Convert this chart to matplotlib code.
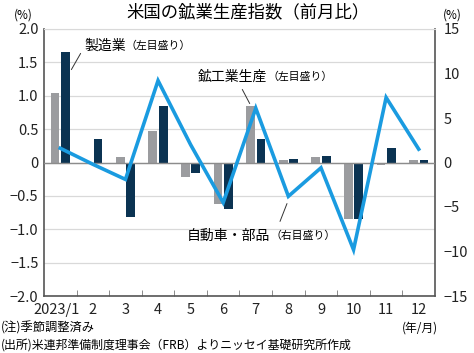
import matplotlib
matplotlib.use("Agg")
import matplotlib.pyplot as plt
import matplotlib.transforms as mtransforms
import numpy as np

plt.rcParams['font.family'] = ['Noto Sans CJK JP', 'DejaVu Sans']

# data (month-on-month %)
months = ['2023/1', '2', '3', '4', '5', '6', '7', '8', '9', '10', '11', '12']
mining = [1.04, 0.0, 0.08, 0.47, -0.22, -0.62, 0.85, 0.04, 0.08, -0.85, -0.03, 0.04]
manufacturing = [1.66, 0.35, -0.82, 0.85, -0.16, -0.70, 0.35, 0.05, 0.09, -0.85, 0.22, 0.04]
autos = [1.6, -0.2, -1.9, 9.2, 2.0, -4.5, 6.1, -3.8, -0.6, -9.8, 7.3, 1.5]
left_ticks = [2.0, 1.5, 1.0, 0.5, 0, -0.5, -1.0, -1.5, -2.0]
right_ticks = [15, 10, 5, 0, -5, -10, -15]

W, H = 474, 353
fig = plt.figure(figsize=(W / 100, H / 100), dpi=100)
ax = fig.add_axes([44 / W, 1 - 296 / H, (435 - 44) / W, (296 - 29) / H])

x = np.arange(len(months))
ax.bar(x - 0.16, mining, width=0.27, color='#9b9c9f', zorder=2)
ax.bar(x + 0.16, manufacturing, width=0.27, color='#0b3352', zorder=2)
ax.set_xlim(-0.5, 11.5)
ax.set_ylim(-2.0, 2.0)

for v in left_ticks:
    ax.axhline(v, color='#d9d9d9', lw=0.9, zorder=1)
ax.axhline(0, color='#8c8c8c', lw=1.0, zorder=3)

def fmt(v):
    if v == 0:
        return '0'
    s = f'{abs(v):.1f}' if isinstance(v, float) else f'{abs(v)}'
    return ('−' if v < 0 else '') + s

ax.set_yticks(left_ticks)
ax.set_yticklabels([fmt(v) for v in left_ticks], fontsize=10.5, color='#222222')
ax.tick_params(axis='y', length=0, pad=4)

ax.set_xticks(x)
ax.set_xticklabels(months, fontsize=10.5, color='#222222')
ax.set_xticks(np.arange(0.5, 11.5, 1), minor=True)
ax.tick_params(axis='x', which='major', length=0, pad=5)
ax.tick_params(axis='x', which='minor', direction='in', length=4, color='#777777')
# first label sits a little left of its slot, as in the reference
first = ax.get_xticklabels()[0]
first.set_transform(first.get_transform() +
                    mtransforms.ScaledTranslation(-4 / 100, 0, fig.dpi_scale_trans))

for side in ['left', 'right', 'bottom']:
    ax.spines[side].set_color('#555555')
    ax.spines[side].set_linewidth(1.2)
ax.spines['top'].set_color('#d9d9d9')

ax2 = ax.twinx()
ax2.plot(x, autos, color='#1a9be0', lw=2.6, solid_joinstyle='miter', zorder=4)
ax2.set_ylim(-15, 15)
ax2.set_yticks(right_ticks)
ax2.set_yticklabels([fmt(v) for v in right_ticks], fontsize=10.5, color='#222222')
ax2.tick_params(axis='y', length=0, pad=6)
for side in ['left', 'right', 'bottom', 'top']:
    ax2.spines[side].set_visible(False)

# title and axis units
fig.text(248 / W, 1 - 12 / H, '米国の鉱業生産指数（前月比）', ha='center', va='center', fontsize=12.5)
fig.text(23 / W, 1 - 15 / H, '(%)', ha='center', va='center', fontsize=8.5)
fig.text(452 / W, 1 - 15 / H, '(%)', ha='center', va='center', fontsize=8.5)

# series labels with leader lines
def label(px, py, big, small):
    t = fig.text(px / W, 1 - py / H, big, ha='left', va='center', fontsize=10)
    fig.canvas.draw()
    bb = t.get_window_extent()
    fig.text(bb.x1 / W, 1 - py / H, small, ha='left', va='center', fontsize=7.8)

label(84, 46, '製造業', '（左目盛り）')
label(198, 77, '鉱工業生産', '（左目盛り）')
label(187, 236, '自動車・部品', '（右目盛り）')

ax.annotate('', xy=(70 / W, 1 - 72 / H), xytext=(82 / W, 1 - 51 / H),
            xycoords='figure fraction', textcoords='figure fraction',
            arrowprops=dict(arrowstyle='-', color='#333333', lw=0.7))
ax.annotate('', xy=(251 / W, 1 - 106 / H), xytext=(241 / W, 1 - 87 / H),
            xycoords='figure fraction', textcoords='figure fraction',
            arrowprops=dict(arrowstyle='-', color='#333333', lw=0.7))
ax.annotate('', xy=(288 / W, 1 - 201 / H), xytext=(279 / W, 1 - 224 / H),
            xycoords='figure fraction', textcoords='figure fraction',
            arrowprops=dict(arrowstyle='-', color='#333333', lw=0.7))

# notes
fig.text(420 / W, 1 - 328 / H, '(年/月)', ha='center', va='center', fontsize=8.5)
fig.text(1 / W, 1 - 328 / H, '(注)季節調整済み', ha='left', va='center', fontsize=8.8)
fig.text(1 / W, 1 - 345 / H, '(出所)米連邦準備制度理事会（FRB）よりニッセイ基礎研究所作成',
         ha='left', va='center', fontsize=8.6)

fig.savefig('out.png', dpi=100)
